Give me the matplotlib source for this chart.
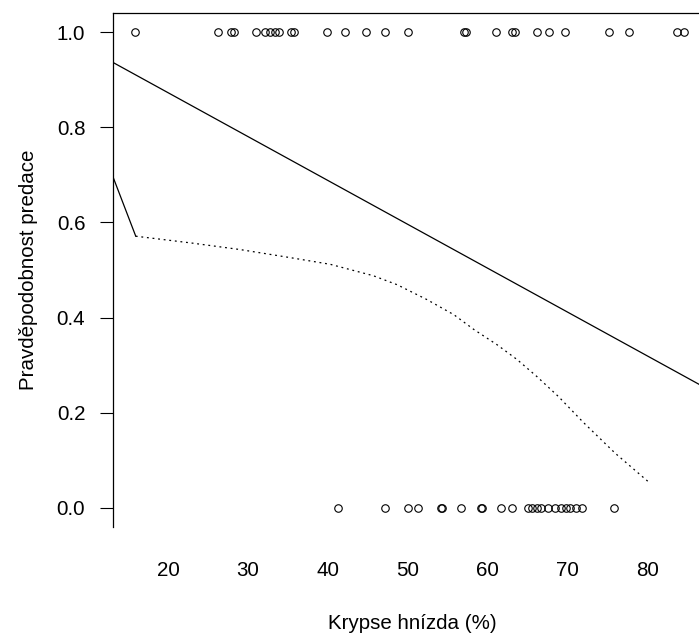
import matplotlib
matplotlib.use("Agg")
import matplotlib.pyplot as plt

plt.rcParams['font.family'] = ['Liberation Sans', 'DejaVu Sans']

# observed nests: predated (1) and not predated (0)
x_pred = [15.8, 26.2, 27.9, 28.3, 31.0, 32.2, 32.8, 33.4, 33.9, 35.4, 35.8,
          39.9, 42.1, 44.8, 47.2, 50.0, 57.1, 57.3, 61.1, 63.1, 63.5, 66.2,
          67.7, 69.7, 75.2, 77.7, 83.7, 84.6]
x_safe = [41.3, 47.2, 50.1, 51.3, 54.2, 54.3, 56.7, 59.2, 59.3, 61.7, 63.1,
          65.1, 65.6, 66.2, 66.7, 67.6, 68.5, 69.2, 69.9, 70.4, 71.1, 71.9,
          75.8]

# fitted straight line
fit_x = [13.0, 88.0]
fit_y = [0.937, 0.246]

# smoothed curve (first segment solid, rest dotted)
smooth_head_x = [13.0, 15.95]
smooth_head_y = [0.70, 0.571]
smooth_x = [15.95, 22.8, 29.0, 35.3, 40.3, 45.7, 48.7, 52.4, 55.8, 58.3,
            61.2, 63.7, 66.2, 68.9, 72.0, 76.0, 80.3]
smooth_y = [0.571, 0.557, 0.543, 0.526, 0.512, 0.488, 0.469, 0.438, 0.406,
            0.375, 0.343, 0.312, 0.276, 0.234, 0.180, 0.115, 0.053]

yticks = [0.0, 0.2, 0.4, 0.6, 0.8, 1.0]
xticks = [20, 30, 40, 50, 60, 70, 80]

fig = plt.figure(figsize=(6.99, 6.39), dpi=100)
ax = fig.add_axes([113 / 699, 112 / 639, 598 / 699, 514 / 639])

ax.plot(x_pred, [1] * len(x_pred), 'o', mfc='none', mec='black', ms=5.4, mew=0.8)
ax.plot(x_safe, [0] * len(x_safe), 'o', mfc='none', mec='black', ms=5.4, mew=0.8)
ax.plot(fit_x, fit_y, color='black', lw=0.9)
ax.plot(smooth_head_x, smooth_head_y, color='black', lw=0.9)
ax.plot(smooth_x, smooth_y, color='black', lw=0.9, dashes=(1.5, 3.0))

ax.set_xlim(13.1, 88.0)
ax.set_ylim(-0.04, 1.04)
ax.set_xticks(xticks)
ax.set_xticklabels([str(v) for v in xticks])
ax.set_yticks(yticks)
ax.set_yticklabels([f"{v:.1f}" for v in yticks])

for s in ['bottom', 'right']:
    ax.spines[s].set_visible(False)
for s in ['top', 'left']:
    ax.spines[s].set_linewidth(0.9)

fs = 14.8
ax.tick_params(axis='y', length=9.4, width=0.8, pad=10.5, labelsize=fs)
ax.tick_params(axis='x', length=0, pad=24.5, labelsize=fs)

ax.set_xlabel('Krypse hnízda (%)', fontsize=fs, va='center')
ax.xaxis.set_label_coords(0.5, -0.187)
ax.set_ylabel('Pravděpodobnost predace', fontsize=fs, va='center')
ax.yaxis.set_label_coords(-0.142, 0.5)

fig.savefig('out.png', dpi=100)
